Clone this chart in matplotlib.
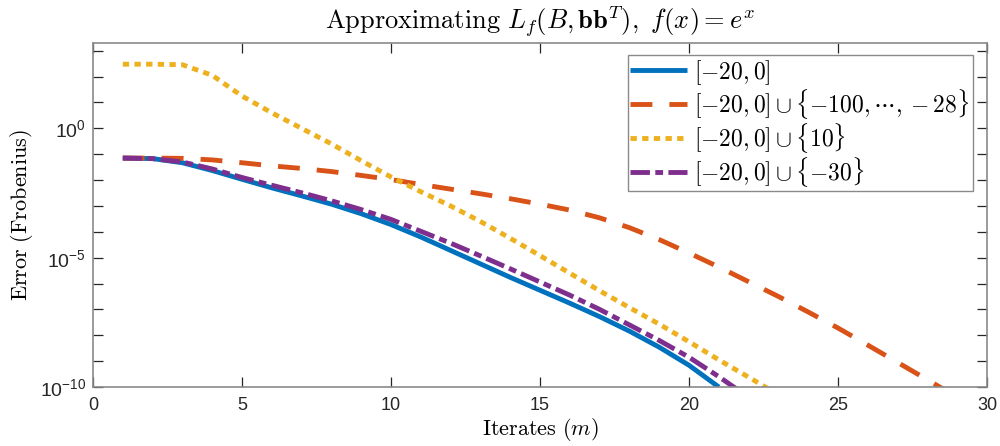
import matplotlib
matplotlib.use('Agg')
import matplotlib.pyplot as plt
from matplotlib.ticker import FixedLocator, FuncFormatter, NullLocator
import numpy as np

# 数学字体: 刻度用无衬线, 标题/标签/图例用 cm
plt.rcParams['mathtext.fontset'] = 'custom'
plt.rcParams['mathtext.rm'] = 'Liberation Sans'
plt.rcParams['mathtext.it'] = 'Liberation Sans:italic'
plt.rcParams['font.family'] = ['Liberation Sans', 'DejaVu Sans']

# 数据: log10(误差), 按迭代次数 m
m_blue = list(range(1, 22))
log_blue = [-1.15, -1.17, -1.33, -1.63, -1.97, -2.3, -2.61, -2.93, -3.3, -3.72,
            -4.2, -4.72, -5.24, -5.76, -6.26, -6.76, -7.28, -7.84, -8.46, -9.16, -10.0]

m_orange = list(range(1, 30))
log_orange = [-1.15, -1.15, -1.16, -1.22, -1.33, -1.45, -1.55, -1.67, -1.82, -1.98,
              -2.17, -2.35, -2.53, -2.72, -2.93, -3.16, -3.46, -3.84, -4.3, -4.82,
              -5.36, -5.93, -6.5, -7.1, -7.72, -8.38, -9.05, -9.72, -10.4]

m_yellow = list(range(1, 24))
log_yellow = [2.48, 2.48, 2.46, 2.05, 1.25, 0.6, 0.0, -0.6, -1.25, -1.88,
              -2.45, -3.0, -3.6, -4.25, -4.92, -5.6, -6.28, -6.93, -7.57, -8.25,
              -8.95, -9.62, -10.3]

m_purple = list(range(1, 23))
log_purple = [-1.15, -1.17, -1.3, -1.57, -1.9, -2.2, -2.49, -2.8, -3.14, -3.52,
              -3.98, -4.44, -4.93, -5.43, -5.94, -6.45, -7.0, -7.6, -8.2, -8.85,
              -9.6, -10.4]

labels = [r'$[-20,0]$',
          r'$[-20,0]\cup\{-100,\cdots,-28\}$',
          r'$[-20,0]\cup\{10\}$',
          r'$[-20,0]\cup\{-30\}$']

fig = plt.figure(figsize=(10, 4.46), dpi=100)
ax = fig.add_axes([0.093, 0.1323, 0.894, 0.7713])

lw = 3.5
ax.plot(m_blue, 10.0 ** np.array(log_blue), color='#0072BD', lw=lw,
        solid_capstyle='butt', label=labels[0])
ax.plot(m_orange, 10.0 ** np.array(log_orange), color='#D95319', lw=lw,
        dashes=(4.5, 3.5), dash_capstyle='butt', label=labels[1])
ax.plot(m_yellow, 10.0 ** np.array(log_yellow), color='#EDB120', lw=lw,
        dashes=(1.3, 1.1), dash_capstyle='butt', label=labels[2])
ax.plot(m_purple, 10.0 ** np.array(log_purple), color='#7E2F8E', lw=lw,
        dashes=(4.0, 1.1, 1.6, 1.1), dash_capstyle='butt', label=labels[3])

ax.set_yscale('log')
ax.set_xlim(0, 30)
ax.set_ylim(1e-10, 10 ** 3.3)

ax.set_xticks(range(0, 31, 5))
ax.yaxis.set_major_locator(FixedLocator([10.0 ** k for k in range(-10, 4)]))
ax.yaxis.set_minor_locator(NullLocator())


def fmt_y(v, pos):
    k = int(round(np.log10(v)))
    if k % 5 == 0:
        return r'$10^{%d}$' % k
    return ''


ax.yaxis.set_major_formatter(FuncFormatter(fmt_y))

ax.tick_params(direction='in', length=7, width=0.9, colors='#262626',
               labelsize=13, top=True, right=True)
ax.tick_params(axis='y', labelsize=14, pad=5)
ax.tick_params(axis='x', pad=7)
for sp in ax.spines.values():
    sp.set_color('#8a8a8a')
    sp.set_linewidth(1.2)

cm = {'math_fontfamily': 'cm'}
ax.set_title(r'$\mathrm{Approximating}\ L_f(B,\mathbf{bb}^T),\ f(x)=e^x$',
             fontsize=19, fontdict=cm, pad=10)
ax.set_xlabel(r'$\mathrm{Iterates}\ (m)$', fontsize=16, fontdict=cm, labelpad=2)
ax.set_ylabel(r'$\mathrm{Error\ (Frobenius)}$', fontsize=16, fontdict=cm, labelpad=3)

leg = ax.legend(loc='upper right', bbox_to_anchor=(0.984, 0.965),
                prop={'size': 17, 'math_fontfamily': 'cm'},
                fancybox=False, framealpha=1, edgecolor='#8a8a8a',
                handlelength=2.4, handletextpad=0.3, borderpad=0.12,
                labelspacing=0.0, borderaxespad=0)
leg.get_frame().set_linewidth(1.0)

plt.savefig('out.png', dpi=100)
